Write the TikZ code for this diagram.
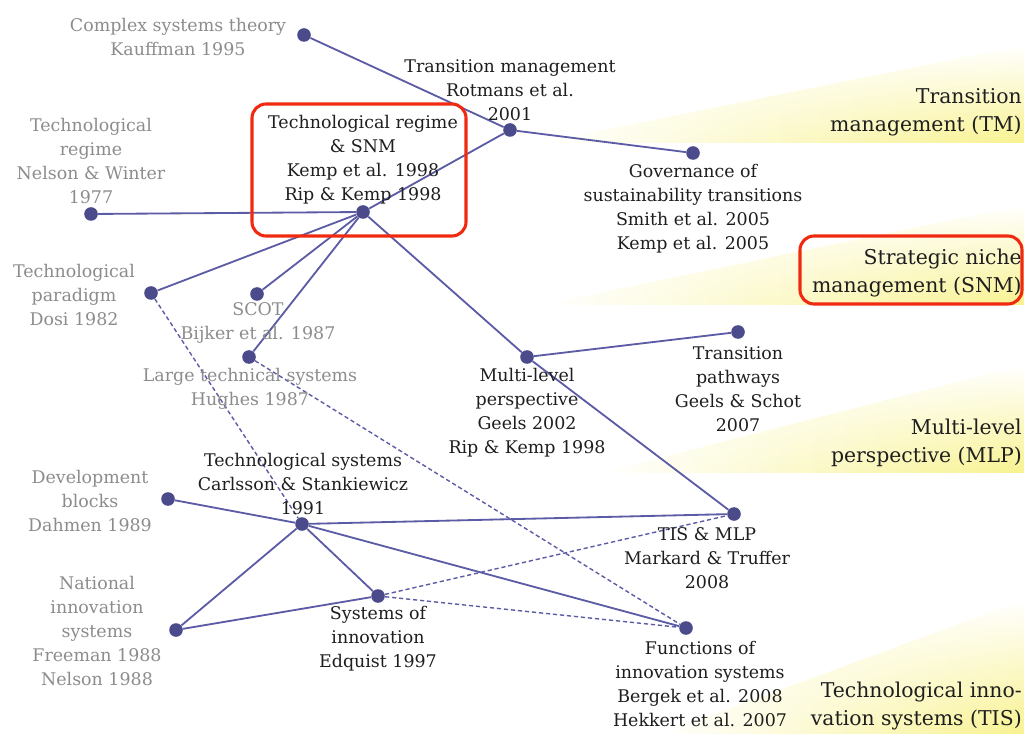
\documentclass[tikz,border=0pt]{standalone}
\usepackage{fontspec}
\setmainfont{DejaVu Serif}
\usepackage{tikz}
\usetikzlibrary{positioning, backgrounds, fadings}

\definecolor{dotblue}{HTML}{4B4B8C}
\definecolor{lineblue}{HTML}{5C5CA6}
\definecolor{oldgray}{HTML}{8C8C8C}
\definecolor{newblack}{HTML}{1E1E1E}
\definecolor{hlred}{HTML}{F02A10}
\definecolor{bandyellow}{HTML}{F8F290}

\begin{document}
\begin{tikzpicture}[
  x=0.025cm, y=-0.025cm,
  dot/.style = {circle, fill=dotblue, inner sep=0pt, minimum size=0.34cm},
  link/.style = {lineblue, line width=1.3pt},
  weaklink/.style = {lineblue, line width=1pt, dash pattern=on 3pt off 2pt},
  newtxt/.style = {align=center, text=newblack, inner sep=0pt, font=\fontsize{12.4}{17}\selectfont},
  oldtxt/.style = {newtxt, text=oldgray},
  field/.style = {align=right, text=newblack, inner sep=0pt, anchor=east, font=\fontsize{14.5}{20}\selectfont},
  highlight/.style = {draw=hlred, line width=2.2pt, rounded corners=0.35cm},
  band/.style = {left color=white, right color=bandyellow, path fading=north}
]
\useasboundingbox (0,0) rectangle (1024,734);

% Theory dots
\node[dot] (cst) at (304,35) {};
\node[dot] (tm) at (510,130) {};
\node[dot] (gov) at (693,153) {};
\node[dot] (nw) at (91,214) {};
\node[dot] (regime) at (363,212) {};
\node[dot] (paradigm) at (151,293) {};
\node[dot] (scot) at (257,294) {};
\node[dot] (lts) at (249,357) {};
\node[dot] (mlp) at (527,357) {};
\node[dot] (pathways) at (738,332) {};
\node[dot] (devblocks) at (168,499) {};
\node[dot] (techsys) at (302,524) {};
\node[dot] (tismlp) at (734,514) {};
\node[dot] (sysinno) at (378,596) {};
\node[dot] (nis) at (176,630) {};
\node[dot] (functions) at (686,628) {};

% Labels
\node[oldtxt] (cstlab) at (178,37) {Complex systems theory\\Kauffman 1995};
\node[newtxt] (tmlab) at (510,90) {Transition management\\Rotmans et al.\\2001};
\node[newtxt] (govlab) at (693,209) {Governance of\\sustainability transitions\\Smith et al. 2005\\Kemp et al. 2005};
\node[oldtxt] (nwlab) at (91,161) {Technological\\regime\\Nelson \& Winter\\1977};
\node[newtxt] (regimelab) at (363,160) {Technological regime\\\& SNM\\Kemp et al. 1998\\Rip \& Kemp 1998};
\node[oldtxt] (paradigmlab) at (74,295) {Technological\\paradigm\\Dosi 1982};
\node[oldtxt] (scotlab) at (258,323) {SCOT\\Bijker et al. 1987};
\node[oldtxt] (ltslab) at (250,389) {Large technical systems\\Hughes 1987};
\node[newtxt] (mlplab) at (527,413) {Multi-level\\perspective\\Geels 2002\\Rip \& Kemp 1998};
\node[newtxt] (pathwayslab) at (738,389) {Transition\\pathways\\Geels \& Schot\\2007};
\node[oldtxt] (devblockslab) at (90,501) {Development\\blocks\\Dahmen 1989};
\node[newtxt] (techsyslab) at (303,484) {Technological systems\\Carlsson \& Stankiewicz\\1991};
\node[newtxt] (tismlplab) at (707,558) {TIS \& MLP\\Markard \& Truffer\\2008};
\node[newtxt] (sysinnolab) at (378,639) {Systems of\\innovation\\Edquist 1997};
\node[oldtxt] (nislab) at (97,631) {National\\innovation\\systems\\Freeman 1988\\Nelson 1988};
\node[newtxt] (functionslab) at (700,684) {Functions of\\innovation systems\\Bergek et al. 2008\\Hekkert et al. 2007};

% Research fields on the right
\node[field] (tmfield) at (1022,112) {Transition\\management (TM)};
\node[field] (snmfield) at (1022,273) {Strategic niche\\management (SNM)};
\node[field] (mlpfield) at (1022,443) {Multi-level\\perspective (MLP)};
\node[field] (tisfield) at (1022,706) {Technological inno-\\vation systems (TIS)};

\begin{scope}[on background layer]
  % yellow bands
  \shade[band] (540,143) -- (1024,143) -- (1024,45) -- cycle;
  \shade[band] (540,305) -- (1024,305) -- (1024,205) -- cycle;
  \shade[band] (600,473) -- (1024,473) -- (1024,365) -- cycle;
  \shade[band] (660,734) -- (1024,734) -- (1024,600) -- cycle;

  % solid links
  \draw[link] (cst) -- (tm);
  \draw[link] (tm) -- (gov);
  \draw[link] (tm) -- (regime);
  \draw[link] (nw) -- (regime);
  \draw[link] (regime) -- (paradigm);
  \draw[link] (regime) -- (scot);
  \draw[link] (regime) -- (lts);
  \draw[link] (regime) -- (mlp);
  \draw[link] (mlp) -- (pathways);
  \draw[link] (mlp) -- (tismlp);
  \draw[link] (devblocks) -- (techsys);
  \draw[link] (techsys) -- (tismlp);
  \draw[link] (techsys) -- (functions);
  \draw[link] (techsys) -- (sysinno);
  \draw[link] (techsys) -- (nis);
  \draw[link] (nis) -- (sysinno);

  % dashed links
  \draw[weaklink] (paradigm) -- (techsys);
  \draw[weaklink] (lts) -- (functions);
  \draw[weaklink] (sysinno) -- (tismlp);
  \draw[weaklink] (sysinno) -- (functions);
\end{scope}

% Highlight frames
\draw[highlight] (252,104) rectangle (466,236);
\draw[highlight] (800,236) rectangle (1022,304);

\end{tikzpicture}
\end{document}
